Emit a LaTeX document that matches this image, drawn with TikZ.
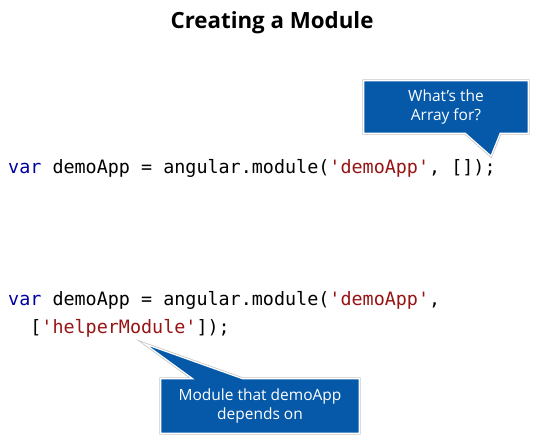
\documentclass[tikz,border=0pt]{standalone}
\usepackage{fontspec}
\setmainfont{Open Sans}
\setmonofont{DejaVu Sans Mono}
\usetikzlibrary{backgrounds}
\definecolor{kwblue}{RGB}{0,0,160}
\definecolor{strred}{RGB}{150,20,20}
\definecolor{bubbleblue}{RGB}{6,89,169}
\begin{document}
\begin{tikzpicture}[x=1pt, y=-1pt,
		code/.style={anchor=base west, inner sep=0pt, font=\ttfamily\fontsize{18.4}{22}\selectfont},
		bubbletext/.style={text=white, align=center, inner sep=0pt, font=\fontsize{15.5}{19}\selectfont},
		bubble/.style={fill=bubbleblue, draw=white, line width=1.2pt, line join=miter,
			preaction={draw=black!22, line width=2.8pt}}]
		\useasboundingbox (0,0) rectangle (552,444);
		\def\kw#1{\textcolor{kwblue}{#1}}
		\def\st#1{\textcolor{strred}{#1}}
		\node[anchor=base, inner sep=0pt, font=\bfseries\fontsize{22.3}{26}\selectfont] (title) at (272,29) {Creating a Module};
		\node[code] (line1) at (8,173) {\kw{var} demoApp = angular.module(\st{'demoApp'}, []);};
		\node[code] (line2) at (8,305) {\kw{var} demoApp = angular.module(\st{'demoApp'},};
		\node[code] (line3) at (8,333) {\ \ [\st{'helperModule'}]);};
		% callouts
		\coordinate (tip1) at (491,156);
		\coordinate (tip2) at (145,344);
		\node[bubbletext, minimum width=164pt, minimum height=52pt] (ask) at (446,107) {What's the\\Array for?};
		\node[bubbletext, minimum width=198pt, minimum height=54pt] (dep) at (260,406) {Module that demoApp\\depends on};
		\begin{pgfonlayer}{background}
			\draw[bubble] (ask.north west) -- (ask.north east) -- (ask.south east) -- ([xshift=-28pt]ask.south east) -- (tip1) -- ([xshift=-63pt]ask.south east) -- (ask.south west) -- cycle;
			\draw[bubble] (dep.north west) -- ([xshift=32pt]dep.north west) -- (tip2) -- ([xshift=82pt]dep.north west) -- (dep.north east) -- (dep.south east) -- (dep.south west) -- cycle;
		\end{pgfonlayer}
	\end{tikzpicture}
\end{document}
